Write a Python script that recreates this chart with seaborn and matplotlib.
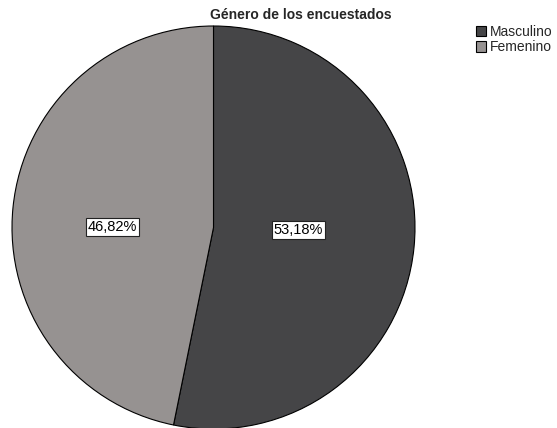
import matplotlib
matplotlib.use("Agg")
import matplotlib.pyplot as plt
import seaborn as sns

categories = ["Masculino", "Femenino"]
values = [53.18, 46.82]
colors = ["#454547", "#969291"]

sns.set_theme(style="white")
plt.rcParams['font.family'] = ['Liberation Sans', 'DejaVu Sans']

fig = plt.figure(figsize=(5.57, 4.28), dpi=100)
ax = fig.add_axes([12/557, -1/428, 403/557, 403/428])

wedges, texts, autotexts = ax.pie(
    values, colors=sns.color_palette(colors), startangle=90, counterclock=False,
    autopct=lambda p: f"{p:.2f}%".replace(".", ","), pctdistance=0.46,
    wedgeprops=dict(edgecolor="black", linewidth=0.8),
    textprops=dict(fontsize=10.5, color="black"))
label_pos = [(0.42, -0.012), (-0.5, 0.003)]
for t, pos in zip(autotexts, label_pos):
    t.set_position(pos)
    t.set_bbox(dict(facecolor="white", edgecolor="#222222", boxstyle="square,pad=0.12", linewidth=0.8))
ax.set_xlim(-1.0, 1.0)
ax.set_ylim(-1.0, 1.0)
ax.set_aspect("equal")

fig.text(301/557, 1 - 15/428, "Género de los encuestados", ha="center", va="center",
         fontsize=10, fontweight="bold")

leg = fig.legend(wedges, categories, loc="upper left", bbox_to_anchor=(476/557, 1 - 25/428),
                 frameon=False, fontsize=10, handlelength=0.75, handleheight=0.75,
                 handletextpad=0.25, labelspacing=0.1, borderpad=0, borderaxespad=0)

fig.savefig("out.png", dpi=100)
